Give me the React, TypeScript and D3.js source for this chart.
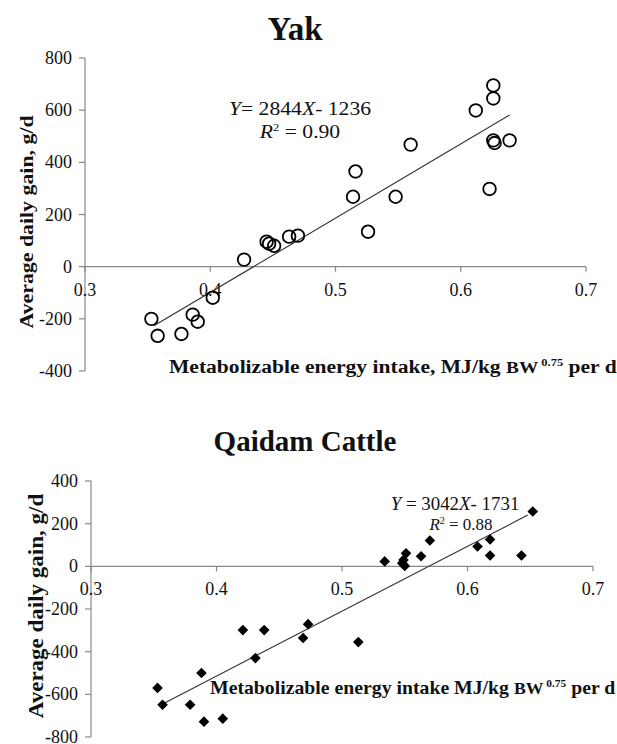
import React from "react";
import * as d3 from "d3";

// ---------- data ----------
const xTicks = [0.3, 0.4, 0.5, 0.6, 0.7];

const yakTicks = [-400, -200, 0, 200, 400, 600, 800];
const yakX = [0.626, 0.626, 0.612, 0.626, 0.627, 0.639, 0.560, 0.516, 0.623, 0.514, 0.548, 0.526, 0.445, 0.447, 0.451, 0.463, 0.470, 0.427, 0.402, 0.386, 0.390, 0.353, 0.358, 0.377];
const yakY = [695, 645, 599, 484, 474, 484, 468, 365, 298, 268, 268, 134, 96, 88, 80, 115, 119, 27, -119, -184, -211, -200, -265, -258];
const yakFit = { slope: 2844, intercept: -1236, x0: 0.355, x1: 0.639 };

const cattleTicks = [-800, -600, -400, -200, 0, 200, 400];
const cattleX = [0.652, 0.618, 0.608, 0.618, 0.643, 0.570, 0.563, 0.551, 0.534, 0.549, 0.548, 0.550, 0.421, 0.438, 0.473, 0.469, 0.513, 0.431, 0.388, 0.353, 0.357, 0.379, 0.390, 0.405];
const cattleY = [257, 126, 93, 51, 51, 121, 47, 61, 23, 30, 15, 2, -299, -299, -271, -336, -355, -430, -500, -570, -649, -649, -728, -714];
const cattleFit = { slope: 3042, intercept: -1731, x0: 0.359, x1: 0.648 };

const SERIF = "Liberation Serif";
const AXIS = "#888888";

function Axes({ x, y, yTicks }: { x: d3.ScaleLinear<number, number>; y: d3.ScaleLinear<number, number>; yTicks: number[] }) {
  const [y0, y1] = y.range();
  const [x0, x1] = x.range();
  const zeroY = y(0);
  return (
    <g>
      <line x1={x0} x2={x0} y1={y0} y2={y1} stroke={AXIS} strokeWidth={1.2} />
      {yTicks.map((t) => (
        <g key={"y" + t}>
          <line x1={x0 - 6} x2={x0} y1={y(t)} y2={y(t)} stroke={AXIS} strokeWidth={1.2} />
          <text x={x0 - 13} y={y(t)} dy="0.34em" textAnchor="end" style={{ fontFamily: SERIF }} fontSize={18} fill="#111">
            {t}
          </text>
        </g>
      ))}
      <line x1={x0} x2={x1} y1={zeroY} y2={zeroY} stroke={AXIS} strokeWidth={1.2} />
      {xTicks.map((t) => (
        <g key={"x" + t}>
          <line x1={x(t)} x2={x(t)} y1={zeroY} y2={zeroY + 5} stroke={AXIS} strokeWidth={1.2} />
          <text x={x(t)} y={zeroY + 29} textAnchor="middle" style={{ fontFamily: SERIF }} fontSize={18} fill="#111">
            {t.toFixed(1)}
          </text>
        </g>
      ))}
    </g>
  );
}

// text placed at (x,y), stretched horizontally (along its own direction) by sx, optionally rotated
function SText({ x, y, sx = 1, rot = 0, anchor = "start", size, bold = false, children }: any) {
  return (
    <g transform={`translate(${x},${y}) rotate(${rot}) scale(${sx},1)`}>
      <text x={0} y={0} textAnchor={anchor} style={{ fontFamily: SERIF }} fontWeight={bold ? "bold" : "normal"} fontSize={size} fill="#111">
        {children}
      </text>
    </g>
  );
}

function XTitle({ x, y, comma, sx }: { x: number; y: number; comma: boolean; sx: number }) {
  return (
    <SText x={x} y={y} sx={sx} size={19} bold>
      {comma ? "Metabolizable energy intake, MJ/kg " : "Metabolizable energy intake  MJ/kg "}
      <tspan fontSize={17}>BW</tspan>
      <tspan fontSize={11} dy={-7}>{" 0.75"}</tspan>
      <tspan dy={7}>{" per d"}</tspan>
    </SText>
  );
}

export default function App() {
  const yx = d3.scaleLinear().domain([0.3, 0.7]).range([85, 586]);
  const yy = d3.scaleLinear().domain([-400, 800]).range([371, 58]);
  const cx = d3.scaleLinear().domain([0.3, 0.7]).range([91, 593]);
  const cy = d3.scaleLinear().domain([-800, 400]).range([737, 481]);

  const yakPts = yakX.map((v, i) => [v, yakY[i]]);
  const catPts = cattleX.map((v, i) => [v, cattleY[i]]);
  const diamond = d3.symbol().type(d3.symbolDiamond2).size(72)();

  const fitLine = (f: typeof yakFit, sx: any, sy: any) =>
    d3.line()([
      [sx(f.x0), sy(f.slope * f.x0 + f.intercept)],
      [sx(f.x1), sy(f.slope * f.x1 + f.intercept)],
    ]) as string;

  return (
    <svg width={617} height={744} style={{ position: "absolute", left: 0, top: 0, background: "#fff" }}>
      {/* ---- Yak ---- */}
      <SText x={295} y={40} anchor="middle" size={33} bold>Yak</SText>
      <Axes x={yx} y={yy} yTicks={yakTicks} />
      <path d={fitLine(yakFit, yx, yy)} stroke="#333" strokeWidth={1.1} fill="none" />
      {yakPts.map((p, i) => (
        <circle key={i} cx={yx(p[0])} cy={yy(p[1])} r={6.3} fill="none" stroke="#000" strokeWidth={1.8} />
      ))}
      <SText x={300} y={115} sx={1.14} anchor="middle" size={19}>
        <tspan fontStyle="italic">Y</tspan>= 2844<tspan fontStyle="italic">X</tspan>-  1236
      </SText>
      <SText x={300} y={138} sx={1.14} anchor="middle" size={19}>
        <tspan fontStyle="italic">R</tspan><tspan fontSize={11} dy={-7}>2</tspan><tspan dy={7}> = 0.90</tspan>
      </SText>
      <SText x={33} y={222} rot={-90} sx={1.15} anchor="middle" size={19} bold>
        Average daily gain,  g/d
      </SText>
      <XTitle x={169} y={373} comma={true} sx={1.135} />

      {/* ---- Qaidam Cattle ---- */}
      <SText x={305} y={451} anchor="middle" size={29} bold>Qaidam Cattle</SText>
      <Axes x={cx} y={cy} yTicks={cattleTicks} />
      <path d={fitLine(cattleFit, cx, cy)} stroke="#333" strokeWidth={1.1} fill="none" />
      {catPts.map((p, i) => (
        <path key={i} d={diamond} transform={`translate(${cx(p[0])},${cy(p[1])})`} fill="#000" />
      ))}
      <SText x={455} y={510} sx={1.05} anchor="middle" size={18}>
        <tspan fontStyle="italic">Y</tspan> = 3042<tspan fontStyle="italic">X</tspan>- 1731
      </SText>
      <SText x={461} y={530} anchor="middle" size={17}>
        <tspan fontStyle="italic">R</tspan><tspan fontSize={10} dy={-6}>2</tspan><tspan dy={6}> = 0.88</tspan>
      </SText>
      <SText x={43} y={606} rot={-90} sx={1.15} anchor="middle" size={20} bold>
        Average daily gain, g/d
      </SText>
      <XTitle x={210} y={694} comma={false} sx={1.04} />
    </svg>
  );
}
